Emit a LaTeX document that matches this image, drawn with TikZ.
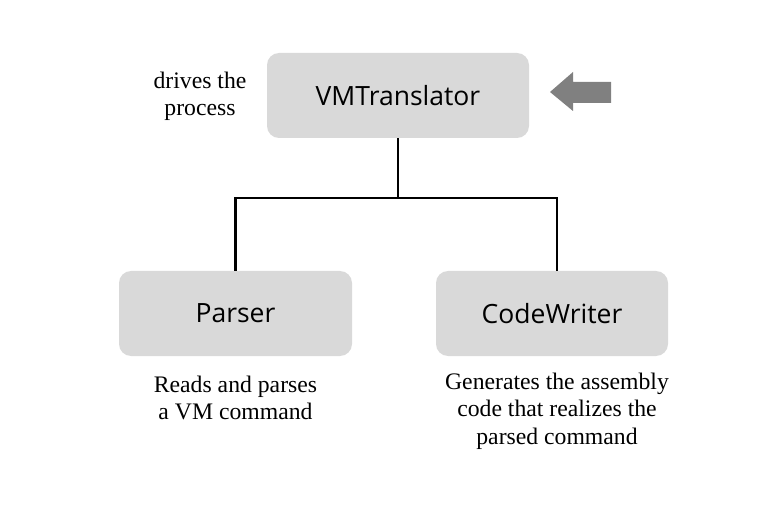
\documentclass[tikz,border=0pt]{standalone}
\usepackage{fontspec}
\setmainfont{Liberation Serif}
\newfontfamily\boxfont{Open Sans}
\usepackage{tikz}
\usetikzlibrary{arrows,calc,positioning}
\tikzset{
  modbox/.style = {draw=none, fill=box_gray, rounded corners=12pt, minimum height=85pt,
  align=center, text centered, font=\boxfont\fontsize{26.5}{30}\selectfont},
  notetext/.style = {align=center, inner sep=0pt, font=\fontsize{23.7}{27.5}\selectfont},
  tie/.style = {draw=black, line width=2.3pt}
}
\definecolor{box_gray}{RGB}{217, 217, 217}
\definecolor{arrow_gray}{RGB}{128, 128, 128}

\begin{document}
\begin{tikzpicture}[x=1pt,y=1pt]
    \useasboundingbox (0,0) rectangle (780,507);
    \node [modbox, minimum width=262pt] (translator) at (398,411.5) {VMTranslator};
    \node [modbox, minimum width=233pt] (parser) at (235.5,193.5) {Parser};
    \node [modbox, minimum width=232pt] (writer) at (552,193.5) {CodeWriter};
    \coordinate (split) at (398,309);
    \draw [tie] (translator.south) -- (split);
    \draw [tie] (split) -| (parser.north);
    \draw [tie] (split) -| ($(writer.north)+(5,0)$);
    \node [notetext] (drives) at (200,410.5) {drives the\\process};
    \node [notetext] (parsenote) at (235.5,109) {Reads and parses\\a VM command};
    \node [notetext] (writenote) at (557,96) {Generates the assembly\\code that realizes the\\parsed command};
    \fill [arrow_gray] (550,415) -- (573,435) -- (573,425) -- (611,425)
        -- (611,404) -- (573,404) -- (573,396) -- cycle;
\end{tikzpicture}
\end{document}
